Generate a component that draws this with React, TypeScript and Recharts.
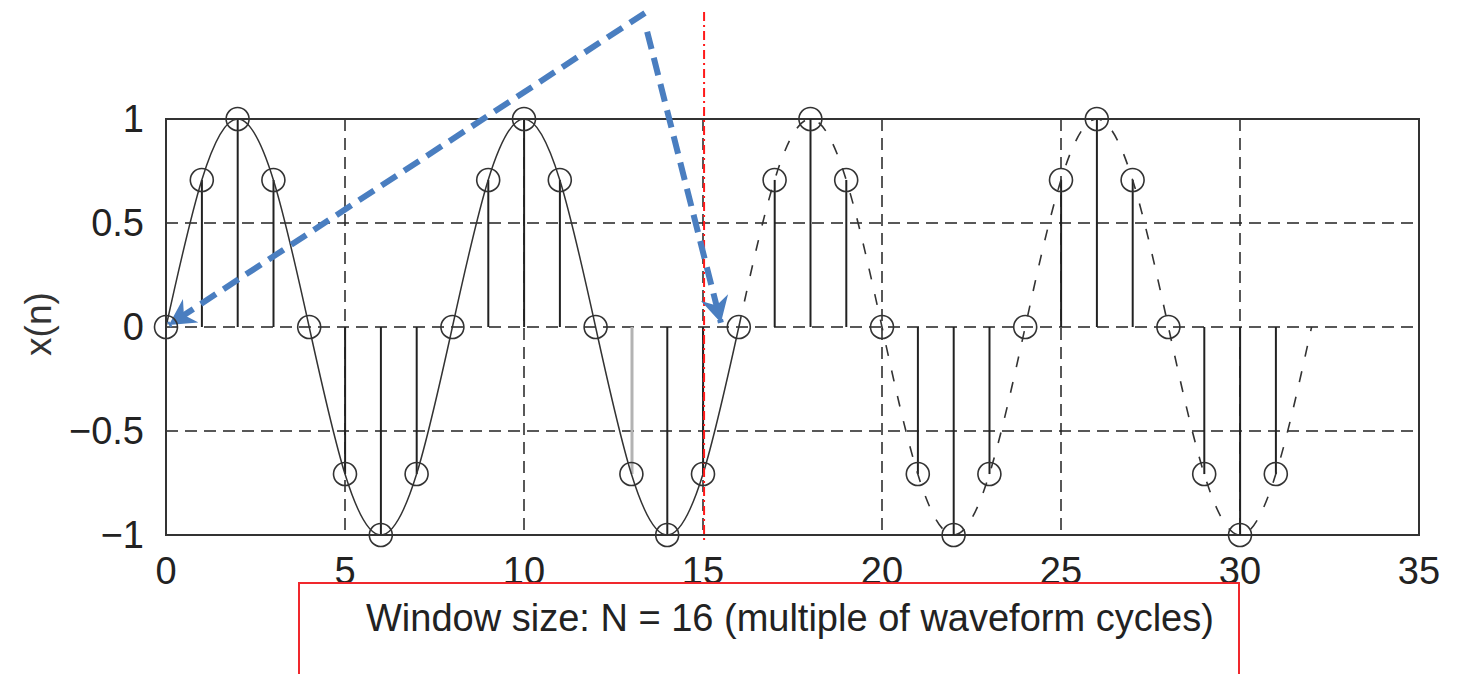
import React from 'react';
import {
  ComposedChart,
  Bar,
  Cell,
  Line,
  XAxis,
  YAxis,
  CartesianGrid,
  ReferenceLine,
  ReferenceArea,
} from 'recharts';

// sample index n
const nValues = [
  0, 1, 2, 3, 4, 5, 6, 7, 8, 9, 10, 11, 12, 13, 14, 15, 16,
  17, 18, 19, 20, 21, 22, 23, 24, 25, 26, 27, 28, 29, 30, 31, 32,
];
// sampled values x(n), n = 0..31 (stems and circles)
const xnValues = [
  0, 0.707, 1, 0.707, 0, -0.707, -1, -0.707,
  0, 0.707, 1, 0.707, 0, -0.707, -1, -0.707,
  0, 0.707, 1, 0.707, 0, -0.707, -1, -0.707,
  0, 0.707, 1, 0.707, 0, -0.707, -1, -0.707,
];
// continuous waveform inside the window, n = 0..16 (solid)
const solidCurve = [
  0, 0.707, 1, 0.707, 0, -0.707, -1, -0.707,
  0, 0.707, 1, 0.707, 0, -0.707, -1, -0.707, 0,
];
// continuous waveform outside the window, n = 16..32 (dashed)
const dashedCurve = [
  0, 0.707, 1, 0.707, 0, -0.707, -1, -0.707,
  0, 0.707, 1, 0.707, 0, -0.707, -1, -0.707, 0,
];
const xTicks = [0, 5, 10, 15, 20, 25, 30, 35];
const yTicks = [-1, -0.5, 0, 0.5, 1];
const highlightedStem = 13;
const windowEdge = 15.03;
const captionText = 'Window size: N = 16 (multiple of waveform cycles)';

// annotation arrows in data coordinates
const arrowOne = [
  { x: 13.38, y: 1.51 },
  { x: 0.08, y: 0.01 },
];
const arrowTwo = [
  { x: 13.44, y: 1.42 },
  { x: 15.5, y: 0.02 },
];
const redLine = [
  { x: windowEdge, y: 1.515 },
  { x: windowEdge, y: -1.04 },
];

const data = nValues.map((n, i) => ({
  n,
  x: i < xnValues.length ? xnValues[i] : null,
  solid: i < solidCurve.length ? solidCurve[i] : null,
  dashed: i >= 16 ? dashedCurve[i - 16] : null,
}));

const FONT = '"Liberation Sans", Arial, Helvetica, sans-serif';
const fmt = (v: number) => (v < 0 ? `\u2212${Math.abs(v)}` : `${v}`);

const blue = '#4A7EC0';

const arrowShape = (p: any) => (
  <line
    x1={p.x1}
    y1={p.y1}
    x2={p.x2}
    y2={p.y2}
    stroke={blue}
    strokeWidth={6}
    strokeDasharray="18 9"
    markerEnd="url(#blueHead)"
  />
);

export default function App() {
  return (
    <div style={{ position: 'absolute', left: 0, top: 0, width: 1457, height: 674, background: '#fff', overflow: 'hidden' }}>
      <svg width={0} height={0} style={{ position: 'absolute' }}>
        <defs>
          <marker
            id="blueHead"
            markerUnits="userSpaceOnUse"
            markerWidth={32}
            markerHeight={30}
            refX={26}
            refY={14}
            orient="auto"
            viewBox="0 0 32 28"
          >
            <path d="M0,0 L26,14 L0,28 L8,14 Z" fill={blue} />
          </marker>
        </defs>
      </svg>
      <ComposedChart
        width={1457}
        height={674}
        data={data}
        margin={{ top: 119, right: 38, left: 0, bottom: 99 }}
      >
        <CartesianGrid
          stroke="#222"
          strokeWidth={1.5}
          strokeDasharray="12 7"
          verticalValues={xTicks}
          horizontalValues={yTicks}
        />
        <XAxis
          dataKey="n"
          type="number"
          domain={[0, 35]}
          ticks={xTicks}
          height={40}
          tickLine={false}
          axisLine={false}
          tickSize={0}
          tickMargin={22}
          interval={0}
          tick={{ fontSize: 38, fill: '#222', fontFamily: FONT }}
        />
        <YAxis
          type="number"
          domain={[-1, 1]}
          ticks={yTicks}
          width={166}
          tickLine={false}
          axisLine={false}
          tickSize={0}
          tickMargin={22}
          interval={0}
          tickFormatter={fmt}
          tick={{ fontSize: 38, fill: '#222', fontFamily: FONT }}
          label={{
            value: 'x(n)',
            content: (p: any) => {
              const vb = p.viewBox || { x: 0, y: 119, width: 166, height: 416 };
              const cx = vb.x + 38;
              const cy = vb.y + vb.height / 2 - 3;
              return (
                <text
                  x={cx}
                  y={cy}
                  transform={`rotate(-90, ${cx}, ${cy})`}
                  textAnchor="middle"
                  dominantBaseline="central"
                  fontSize={37}
                  fontFamily={FONT}
                  fill="#333"
                >
                  x(n)
                </text>
              );
            },
          }}
        />
        <ReferenceArea
          x1={0}
          x2={35}
          y1={-1}
          y2={1}
          fill="none"
          fillOpacity={0}
          stroke="#333"
          strokeWidth={2}
          ifOverflow="visible"
        />
        <Bar dataKey="x" barSize={2} fill="#222" isAnimationActive={false} legendType="none">
          {data.map((d) => (
            <Cell key={d.n} fill={d.n === highlightedStem ? '#b3b3b3' : '#222'} width={d.n === highlightedStem ? 3 : 2} />
          ))}
        </Bar>
        <Line
          dataKey="solid"
          type="natural"
          stroke="#333"
          strokeWidth={1.5}
          dot={false}
          activeDot={false}
          isAnimationActive={false}
          legendType="none"
        />
        <Line
          dataKey="dashed"
          type="natural"
          stroke="#333"
          strokeWidth={1.6}
          strokeDasharray="11 15"
          dot={false}
          activeDot={false}
          isAnimationActive={false}
          legendType="none"
        />
        <Line
          dataKey="x"
          type="linear"
          stroke="none"
          dot={{ r: 11.5, fill: 'none', stroke: '#333', strokeWidth: 1.6 }}
          activeDot={false}
          isAnimationActive={false}
          legendType="none"
        />
        <ReferenceLine
          segment={redLine}
          stroke="#ff1a1a"
          strokeWidth={2}
          strokeDasharray="9 4 2 4"
          ifOverflow="visible"
        />
        <ReferenceLine segment={arrowOne} ifOverflow="visible" shape={arrowShape} />
        <ReferenceLine segment={arrowTwo} ifOverflow="visible" shape={arrowShape} />
      </ComposedChart>
      <div
        style={{
          position: 'absolute',
          left: 298,
          top: 582,
          width: 942,
          height: 140,
          border: '2px solid #f0282d',
          boxSizing: 'border-box',
        }}
      />
      <div
        style={{
          position: 'absolute',
          left: 366,
          top: 599,
          fontFamily: FONT,
          fontSize: 38,
          lineHeight: '38px',
          color: '#222',
          whiteSpace: 'nowrap',
        }}
      >
        {captionText}
      </div>
    </div>
  );
}
